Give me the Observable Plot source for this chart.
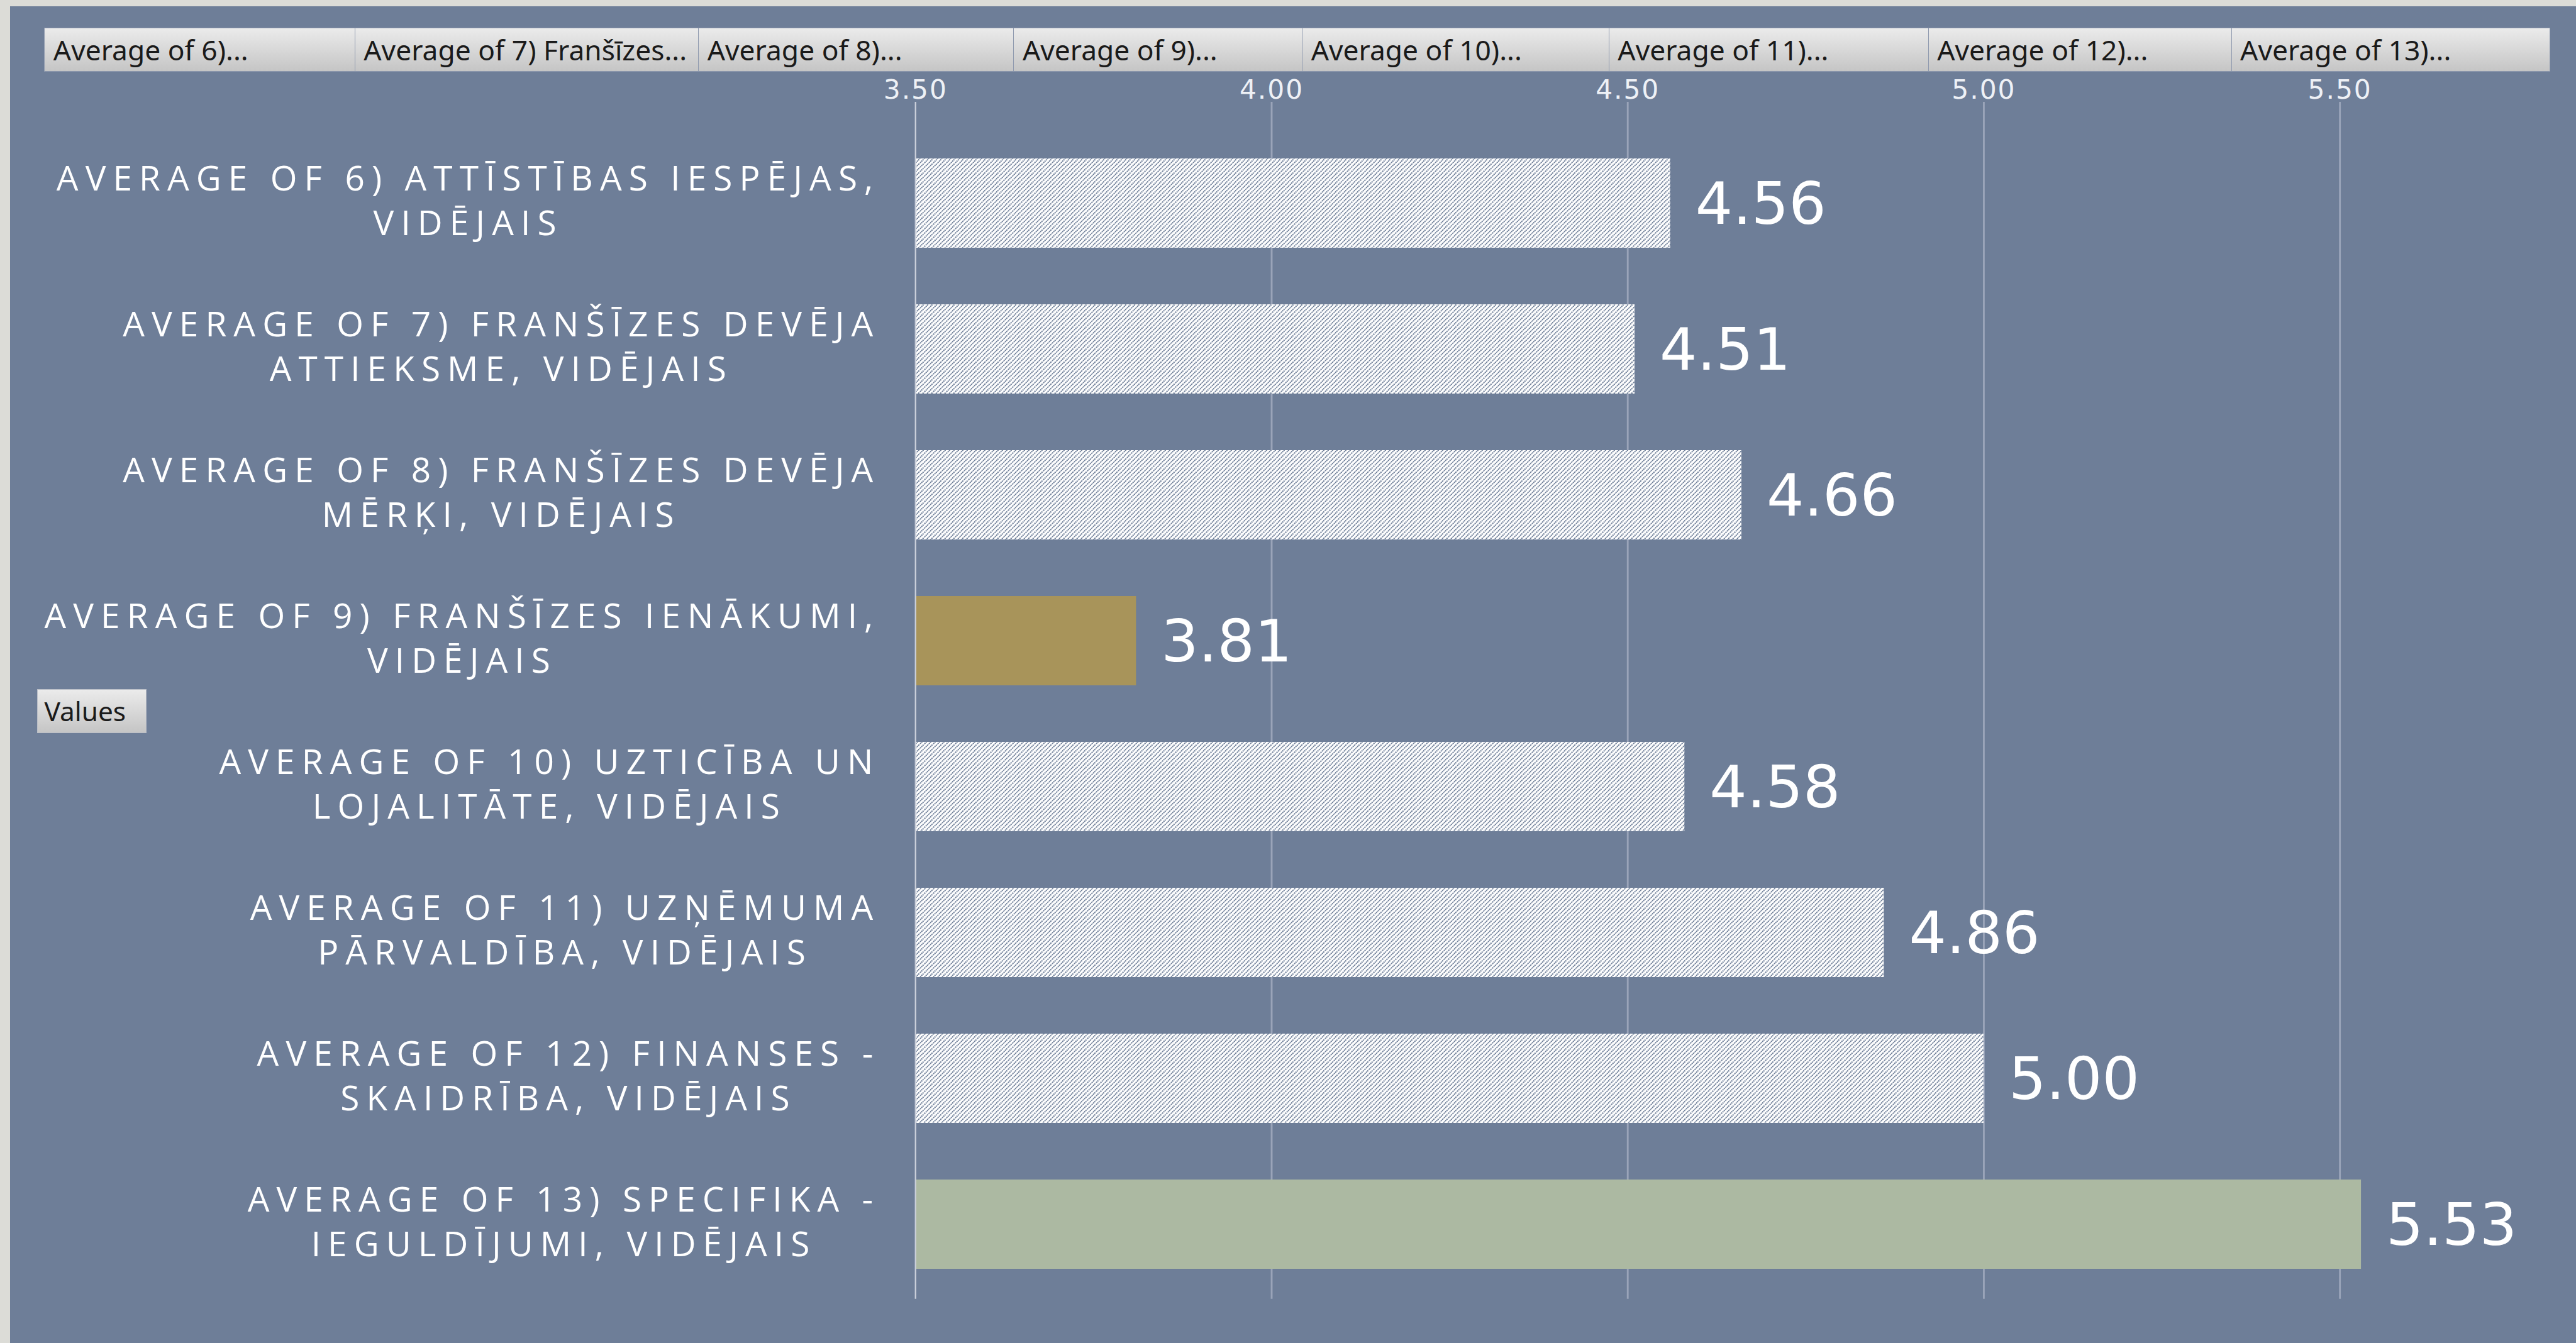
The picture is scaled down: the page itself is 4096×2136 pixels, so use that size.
<!DOCTYPE html>
<html>
<head>
<meta charset="utf-8">
<script src="https://cdn.jsdelivr.net/npm/d3@7"></script>
<script src="https://cdn.jsdelivr.net/npm/@observablehq/plot@0.6"></script>
<style>
html, body { margin:0; padding:0; width:4096px; height:2136px; overflow:hidden; background:#dcdcd7; }
#panel { position:absolute; left:16px; top:10px; right:0; bottom:0; background:#6E7E98; }
#chart { position:absolute; left:0; top:0; }
.btn { position:absolute; box-sizing:border-box; border:1px solid #8e99ae;
       background:linear-gradient(#ebebeb, #c5c5c5); font-family:"Noto Sans", sans-serif;
       color:#1a1a1a; display:flex; align-items:center; white-space:nowrap; overflow:hidden; }
</style>
</head>
<body>
<div id="panel"></div>
<svg width="0" height="0" style="position:absolute">
  <defs>
    <pattern id="hatch" patternUnits="userSpaceOnUse" width="7" height="7">
      <rect width="7" height="7" fill="#ffffff"></rect>
      <path d="M0,7 L7,0 M-2,2 L2,-2 M5,9 L9,5" stroke="#6E7E98" stroke-width="2.1" stroke-dasharray="1.9 1.0"></path>
    </pattern>
  </defs>
</svg>
<div id="root"></div>
<script>
const S = 4096 / 4250;

// ---- data ----
const categories = [
  "AVERAGE OF 6) ATTĪSTĪBAS IESPĒJAS,\nVIDĒJAIS",
  "AVERAGE OF 7) FRANŠĪZES DEVĒJA\nATTIEKSME, VIDĒJAIS",
  "AVERAGE OF 8) FRANŠĪZES DEVĒJA\nMĒRĶI, VIDĒJAIS",
  "AVERAGE OF 9) FRANŠĪZES IENĀKUMI,\nVIDĒJAIS",
  "AVERAGE OF 10) UZTICĪBA UN\nLOJALITĀTE, VIDĒJAIS",
  "AVERAGE OF 11) UZŅĒMUMA\nPĀRVALDĪBA, VIDĒJAIS",
  "AVERAGE OF 12) FINANSES -\nSKAIDRĪBA, VIDĒJAIS",
  "AVERAGE OF 13) SPECIFIKA -\nIEGULDĪJUMI, VIDĒJAIS"
];
const values = [4.56, 4.51, 4.66, 3.81, 4.58, 4.86, 5.00, 5.53];
const xTicks = [3.5, 4.0, 4.5, 5.0, 5.5];
const headerLabels = [
  "Average of 6)...", "Average of 7) Franšīzes...", "Average of 8)...", "Average of 9)...",
  "Average of 10)...", "Average of 11)...", "Average of 12)...", "Average of 13)..."
];
const valuesButtonLabel = "Values";

// ---- layout (reference px) ----
const headerEdges = [73, 585, 1152, 1672, 2148, 2654, 3181, 3681, 4206];
const headerTop = 46, headerBottom = 118;

const data = categories.map((c, i) => ({category: c, value: values[i]}));
const barFill = (d, i) => i === 3 ? "#A8945A" : i === 7 ? "#ACB9A2" : "url(#hatch)";

const chart = Plot.plot({
  width: Math.round(4250 * S),
  height: Math.round(2216 * S),
  marginLeft: 1510 * S,
  marginRight: 37.5 * S,
  marginTop: 168 * S,
  marginBottom: 73 * S,
  style: {background: "transparent", overflow: "visible"},
  color: {type: "identity"},
  x: {domain: [3.5, 5.8]},
  y: {domain: categories, range: [186.6 * S, 2168.5 * S], paddingInner: 0.39, paddingOuter: 0.3},
  marks: [
    Plot.ruleX(xTicks.slice(1), {stroke: "#9aa4b9", strokeWidth: 3 * S}),
    Plot.barX(data, {x1: 3.5, x2: "value", y: "category", fill: barFill}),
    Plot.ruleX([3.5], {stroke: "#c9ced9", strokeWidth: 2.5 * S}),
    Plot.axisX({anchor: "top", ticks: xTicks, tickSize: 0, tickPadding: 6 * S,
      tickFormat: d => d.toFixed(2), fontSize: 44 * S, fontFamily: "DejaVu Sans",
      fill: "#eef1f6", label: null}),
    Plot.axisY({tickSize: 0, tickPadding: 60 * S, textAnchor: "middle", lineHeight: 1.29,
      dy: -8 * S, fontSize: 57 * S, fontFamily: "Open Sans", fill: "#ffffff", label: null}),
    Plot.text(data, {x: "value", y: "category", text: d => d.value.toFixed(2),
      dx: 41 * S, dy: 3 * S, textAnchor: "start", fontSize: 97 * S, fontFamily: "DejaVu Sans", fill: "#ffffff"})
  ]
});
chart.id = "chart";
document.getElementById("root").appendChild(chart);

// header buttons
const root = document.getElementById("root");
headerLabels.forEach((t, i) => {
  const b = document.createElement("div");
  b.className = "btn";
  b.style.left = (headerEdges[i] * S) + "px";
  b.style.top = (headerTop * S) + "px";
  b.style.width = ((headerEdges[i + 1] - headerEdges[i]) * S + 1) + "px";
  b.style.height = ((headerBottom - headerTop) * S) + "px";
  b.style.fontSize = (46 * S) + "px";
  b.style.paddingLeft = (14 * S) + "px";
  b.textContent = t;
  root.appendChild(b);
});
const vb = document.createElement("div");
vb.className = "btn";
vb.style.border = "1px solid #b9bdc6";
vb.style.left = (61 * S) + "px";
vb.style.top = (1137 * S) + "px";
vb.style.width = (181 * S) + "px";
vb.style.height = (73 * S) + "px";
vb.style.fontSize = (44 * S) + "px";
vb.style.paddingLeft = (11 * S) + "px";
vb.textContent = valuesButtonLabel;
root.appendChild(vb);

// align y labels: lines centered as a block, block right-aligned
function alignLabels() {
  const g = chart.querySelector('g[aria-label="y-axis tick label"]');
  if (!g) return;
  g.style.letterSpacing = (11.5 * S) + "px";
  const R = 1452 * S;
  const left = chart.getBoundingClientRect().left;
  g.querySelectorAll("text").forEach(t => {
    const r = t.getBoundingClientRect();
    const dx = R - (r.right - left);
    t.setAttribute("transform", (t.getAttribute("transform") || "") + ` translate(${dx},0)`);
  });
  const gx = chart.querySelector('g[aria-label="x-axis tick label"]');
  if (gx) gx.style.letterSpacing = (2 * S) + "px";
}
alignLabels();
if (document.fonts && document.fonts.ready) document.fonts.ready.then(alignLabels);
</script>
</body>
</html>
